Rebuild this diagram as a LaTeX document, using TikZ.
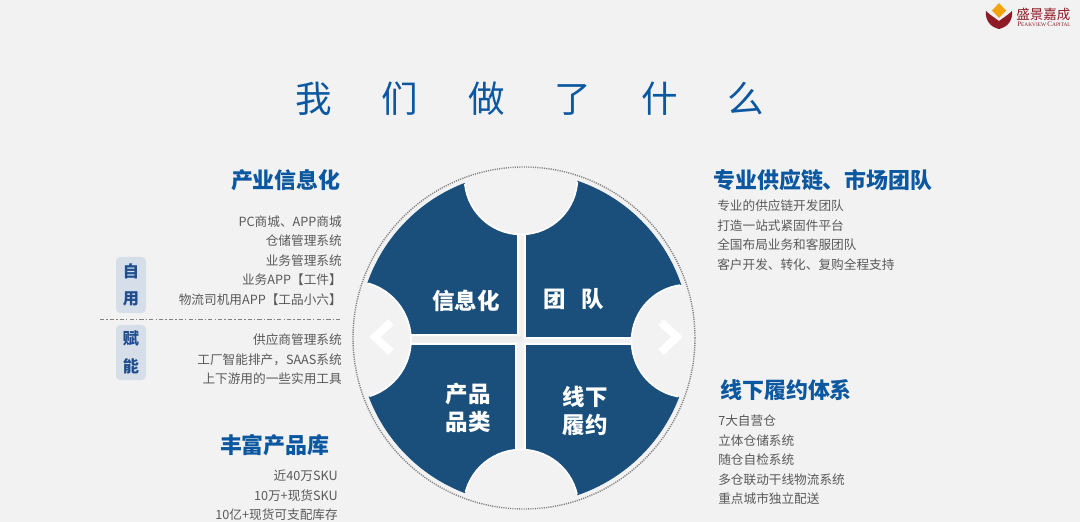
\documentclass[tikz,border=0pt]{standalone}
\usepackage{fontspec}
\setmainfont{Noto Sans CJK SC}
\newfontfamily\logofont{Liberation Serif}
\definecolor{pagebg}{HTML}{F2F2F2}
\definecolor{petalblue}{HTML}{1A4F7C}
\definecolor{headblue}{HTML}{0B57A0}
\definecolor{bodygray}{HTML}{595959}
\definecolor{badgebg}{HTML}{D6DEEA}
\definecolor{badgeblue}{HTML}{1F4E8C}
\definecolor{logored}{HTML}{8E1B25}
\definecolor{logoorange}{HTML}{F5A30A}
\tikzset{
  petal/.style={fill=petalblue,draw=white,line width=1.1pt},
  headline/.style={font=\fontsize{15.6}{18}\selectfont\bfseries,text=headblue,inner sep=0pt},
  bodyline/.style={font=\fontsize{9}{11}\selectfont,text=bodygray,inner sep=0pt},
  petallabel/.style={font=\fontsize{16}{19.5}\selectfont\bfseries,text=white,inner sep=0pt,align=center},
  badgechar/.style={font=\fontsize{11.5}{14}\selectfont\bfseries,text=badgeblue,inner sep=0pt},
  chevron/.style={draw=white,line width=5.6pt,miter limit=10}
}
\begin{document}
\begin{tikzpicture}[x=0.025cm,y=0.025cm]

        \useasboundingbox (0,0) rectangle (1080,521);
        \clip (0,0) rectangle (1080,521);
        \fill[pagebg] (-5,-5) rectangle (1085,526);

        \coordinate (O) at (524,183);
        \coordinate (L) at (352,181);
        \coordinate (R) at (688,180);
        \coordinate (T) at (521,343);
        \coordinate (B) at (521,14);

        % four petals, cut by the circle and the notches
        \begin{scope}
          \clip (O) circle (166);
          \fill[black!7] (408,179) rectangle (522,186);
          \draw[white,line width=2.2pt] (O) circle (165);
          \draw[petal] (300,186) rectangle (518,400);
          \draw[petal] (525,183) rectangle (750,400);
          \draw[petal] (300,0) rectangle (516,177);
          \draw[petal] (525,0) rectangle (750,177);
        \end{scope}
        \fill[pagebg] (L) circle (59);
        \fill[pagebg] (R) circle (56.5);
        \fill[pagebg] (T) circle (56.5);
        \fill[pagebg] (B) circle (57.5);
        \begin{scope}
          \clip (O) circle (165);
          \begin{scope}
            \clip (300,186) rectangle (518,400);
            \fill[black!5] (L) circle (59);
            \fill[pagebg] ([shift={(-3,-4)}]L) circle (59);
            \fill[black!5] (T) circle (56.5);
            \fill[pagebg] ([shift={(3,3)}]T) circle (56.5);
          \end{scope}
          \draw[white,line width=1.1pt] (L) circle (59);
          \draw[white,line width=1.1pt] (R) circle (56.5);
          \draw[white,line width=1.1pt] (T) circle (56.5);
          \draw[white,line width=1.1pt] (B) circle (57.5);
        \end{scope}

        % dotted ring
        \draw[black!50,dash pattern=on 0.8pt off 0.8pt,line width=1pt] (O) circle (171);

        \coordinate (chevLa) at (391,199);
        \coordinate (chevLb) at (375,184);
        \coordinate (chevLc) at (391,169);
        \coordinate (chevRa) at (661,199);
        \coordinate (chevRb) at (677,184);
        \coordinate (chevRc) at (661,169);
        \draw[chevron] (chevLa) -- (chevLb) -- (chevLc);
        \draw[chevron] (chevRa) -- (chevRb) -- (chevRc);

        \begin{scope}[every node/.style={petallabel}]
          \node (xinxi)  at (466,220) {信息化};
          \node (tuandui) at (574,222) {团\hspace{0.68em}队};
          \node (pinlei) at (468,113) {产品\\品类};
          \node (lvyue)  at (585,110) {线下\\履约};
        \end{scope}

        % page title
        \node[text=headblue,font=\fontsize{26}{30}\selectfont,inner sep=0pt] (title) at (530,422)
          {我\hspace{35.5pt}们\hspace{35.5pt}做\hspace{35.5pt}了\hspace{35.5pt}什\hspace{35.5pt}么};

        % left column
        \node[headline,anchor=east] (headinfo) at (341,341) {产业信息化};
        \begin{scope}[every node/.style={bodyline,anchor=east}]
          \node (info1) at (342,299) {PC商城、APP商城};
          \node (info2) at (342,280) {仓储管理系统};
          \node (info3) at (342,260) {业务管理系统};
          \node (info4) at (342,241) {业务APP【工件】};
          \node (info5) at (342,221) {物流司机用APP【工品小六】};
          \node (info6) at (342,181) {供应商管理系统};
          \node (info7) at (342,161) {工厂智能排产，SAAS系统};
          \node (info8) at (342,142) {上下游用的一些实用工具};
        \end{scope}

        \coordinate (splitL) at (100,201.5);
        \coordinate (splitR) at (342,201.5);
        \draw[gray,dash pattern=on 3pt off 1.5pt on 1pt off 1.5pt,line width=0.5pt] (splitL) -- (splitR);

        \fill[badgebg,rounded corners=3pt] (116,208) rectangle (146,264);
        \fill[badgebg,rounded corners=3pt] (116,141) rectangle (146,196);
        \begin{scope}[every node/.style={badgechar}]
          \node (zi)  at (131,250) {自};
          \node (yong) at (131,222) {用};
          \node (fu)  at (131,183) {赋};
          \node (neng) at (131,155) {能};
        \end{scope}

        \node[headline,anchor=east] (headprod) at (330,76) {丰富产品库};
        \begin{scope}[every node/.style={bodyline,anchor=east}]
          \node (prod1) at (338,45) {近40万SKU};
          \node (prod2) at (338,25) {10万+现货SKU};
          \node (prod3) at (338,6)  {10亿+现货可支配库存};
        \end{scope}

        % right column
        \node[headline,anchor=west] (headteam) at (713,341) {专业供应链、市场团队};
        \begin{scope}[every node/.style={bodyline,anchor=west}]
          \node (team1) at (717,315) {专业的供应链开发团队};
          \node (team2) at (717,295) {打造一站式紧固件平台};
          \node (team3) at (717,276) {全国布局业务和客服团队};
          \node (team4) at (717,256) {客户开发、转化、复购全程支持};
        \end{scope}

        \node[headline,anchor=west] (headlv) at (720,131) {线下履约体系};
        \begin{scope}[every node/.style={bodyline,anchor=west}]
          \node (lv1) at (718,100) {7大自营仓};
          \node (lv2) at (718,80)  {立体仓储系统};
          \node (lv3) at (718,61)  {随仓自检系统};
          \node (lv4) at (718,41)  {多仓联动干线物流系统};
          \node (lv5) at (718,22)  {重点城市独立配送};
        \end{scope}

        % logo
        \fill[logored] (986,510) .. controls (990,506) and (995,503) .. (999,500)
          .. controls (1003,503) and (1008,506) .. (1012,510)
          .. controls (1013,501) and (1008,494) .. (999,492)
          .. controls (990,494) and (985,501) .. (986,510);
        \fill[logoorange] (999,518) -- (1006,510.5) -- (999,503) -- (992,510.5) -- cycle;
        \node[text=logored,font=\fontsize{9.6}{11}\selectfont,inner sep=0pt,anchor=west] (logoname) at (1016,507) {盛景嘉成};
        \node[text=logored,font=\logofont\fontsize{3.8}{5}\selectfont,inner sep=0pt,anchor=west] (logosub) at (1017,497)
          {{\fontsize{5}{5}\selectfont P}EAKVIEW {\fontsize{5}{5}\selectfont C}APITAL};

\end{tikzpicture}
\end{document}
